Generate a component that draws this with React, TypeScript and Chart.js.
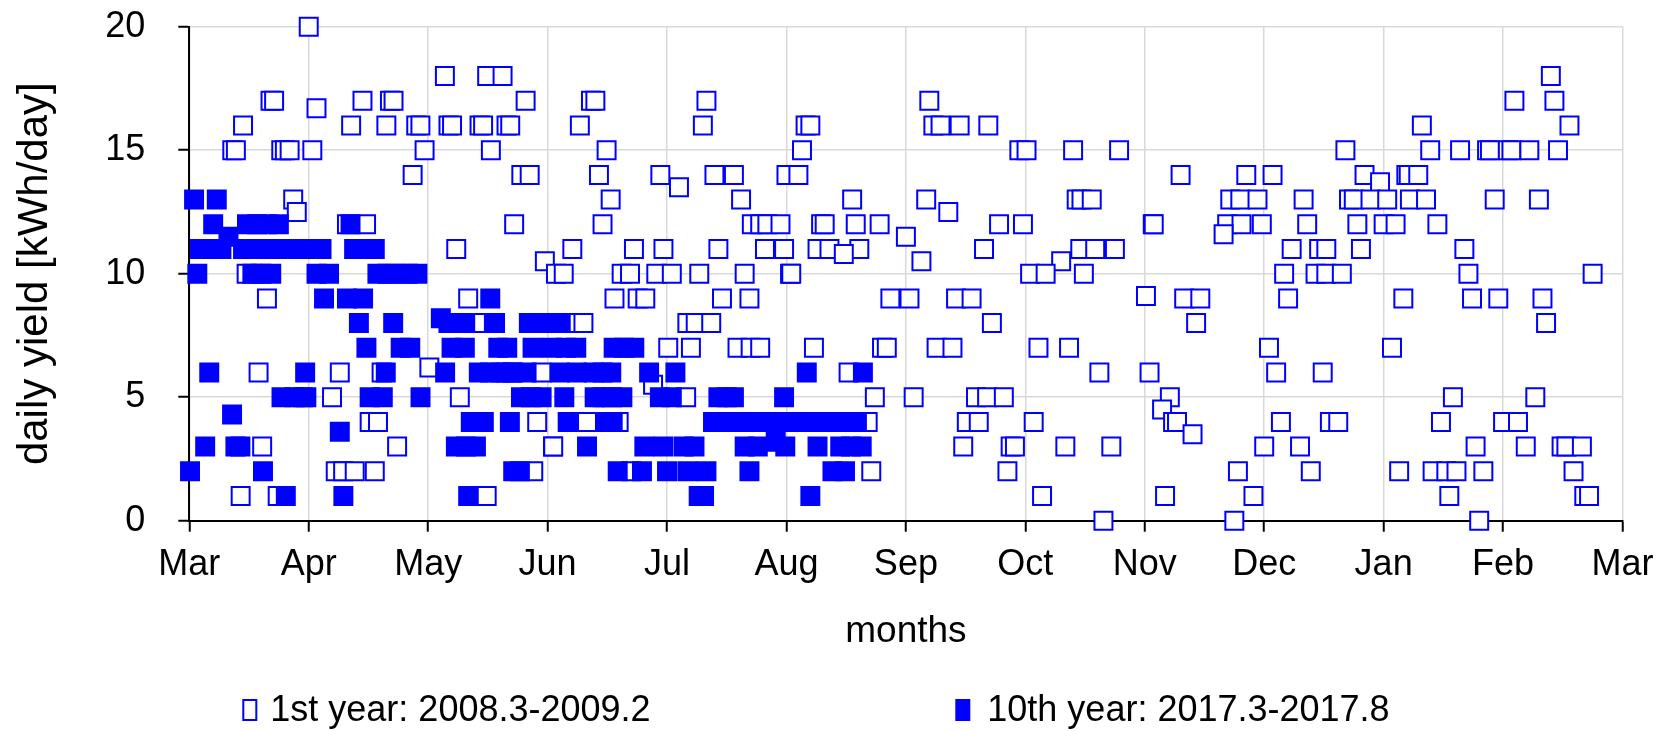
import React, { useEffect, useRef } from 'react';
import { Chart, registerables } from 'chart.js';

Chart.register(...registerables);

// Month ticks (x = months since 1 March)
const MONTH_LABELS = ['Mar', 'Apr', 'May', 'Jun', 'Jul', 'Aug', 'Sep', 'Oct', 'Nov', 'Dec', 'Jan', 'Feb', 'Mar'];
const Y_TICKS = [0, 5, 10, 15, 20];
const X_TITLE = 'months';
const Y_TITLE = 'daily yield [kWh/day]';
const SERIES_NAMES = ['1st year: 2008.3-2009.2', '10th year: 2017.3-2017.8'];

// 1st year (open squares): [month position, kWh/day]
const YEAR1_MAR_APR: [number, number][] = [
  [1.0, 20], [0.68, 17], [0.71, 17], [1.065, 16.7], [0.45, 16], [0.36, 15], [0.39, 15], [0.77, 15], [0.8, 15], [0.84, 15],
  [1.03, 15], [0.87, 13], [0.9, 12.5], [0.48, 10], [0.65, 9], [0.58, 6], [0.61, 3], [0.43, 1], [0.74, 1], [0.95, 5],
  [1.45, 17], [1.68, 17], [1.71, 17], [1.355, 16], [1.65, 16], [1.9, 16], [1.935, 16], [1.97, 15], [1.87, 14], [1.32, 12],
  [1.48, 12], [1.26, 6], [1.61, 6], [2.01, 6.2], [1.195, 5], [1.51, 4], [1.58, 4], [1.74, 3], [1.226, 2], [1.288, 2],
  [1.385, 2], [1.553, 2],
];
const YEAR1_MAY_JUN: [number, number][] = [
  [2.14, 18], [2.494, 18], [2.623, 18], [2.816, 17], [2.17, 16], [2.2, 16], [2.43, 16], [2.46, 16], [2.656, 16], [2.687, 16],
  [2.525, 15], [2.78, 14], [2.85, 14], [2.72, 12], [2.235, 11], [2.977, 10.5], [2.335, 9], [2.4, 8], [2.65, 6], [2.7, 6],
  [2.95, 6], [2.265, 5], [2.913, 4], [3.045, 3], [2.88, 2], [2.49, 1],
  [3.363, 17], [3.4, 17], [3.27, 16], [3.494, 15], [3.43, 14], [3.944, 14], [4.1, 13.5], [3.528, 13], [3.46, 12], [3.207, 11],
  [3.723, 11], [3.97, 11], [3.07, 10], [3.135, 10], [3.62, 10], [3.69, 10], [3.91, 10], [4.04, 10], [3.56, 9], [3.754, 9],
  [3.818, 9], [3.218, 8], [3.3, 8], [4.01, 7], [3.883, 5.5], [3.33, 4], [3.595, 4], [3.047, 3], [3.7, 2],
];
const YEAR1_JUL_AUG: [number, number][] = [
  [4.33, 17], [4.3, 16], [4.397, 14], [4.56, 14], [5.0, 14], [5.1, 14], [4.62, 13], [4.71, 12], [4.78, 12], [4.84, 12],
  [4.95, 12], [4.43, 11], [4.82, 11], [4.98, 11], [4.27, 10], [4.65, 10], [5.03, 10], [4.46, 9], [4.69, 9], [4.17, 8],
  [4.24, 8], [4.37, 8], [4.2, 7], [4.59, 7], [4.7, 7], [4.78, 7], [4.16, 5],
  [5.16, 16], [5.2, 16], [5.13, 15], [5.55, 13], [5.29, 12], [5.32, 12], [5.58, 12], [5.78, 12], [6.0, 11.5], [5.26, 11],
  [5.36, 11], [5.61, 11], [5.48, 10.8], [6.13, 10.5], [5.04, 10], [5.87, 9], [6.03, 9], [5.23, 7], [5.8, 7], [5.84, 7],
  [5.52, 6], [5.74, 5], [6.065, 5], [5.68, 4], [5.71, 2],
];
const YEAR1_SEP_OCT: [number, number][] = [
  [6.196, 17], [6.23, 16], [6.29, 16], [6.45, 16], [6.69, 16], [6.95, 15], [7.01, 15], [7.4, 15], [7.785, 15], [6.17, 13],
  [7.43, 13], [7.47, 13], [7.556, 13], [6.355, 12.5], [6.78, 12], [6.98, 12], [6.654, 11], [7.46, 11], [7.585, 11], [7.75, 11],
  [7.3, 10.5], [7.04, 10], [7.17, 10], [7.49, 10], [6.42, 9], [6.55, 9], [6.72, 8], [6.257, 7], [6.39, 7], [7.11, 7],
  [7.366, 7], [7.62, 6], [6.587, 5], [6.68, 5], [6.82, 5], [6.51, 4], [6.61, 4], [7.07, 4], [6.48, 3], [6.877, 3],
  [6.913, 3], [7.335, 3], [7.72, 3], [6.85, 2], [7.14, 1], [7.654, 0],
];
const YEAR1_NOV_DEC: [number, number][] = [
  [8.067, 12], [8.01, 9.1], [8.04, 6],
  [9.68, 15], [8.3, 14], [8.85, 14], [9.07, 14], [9.84, 14], [9.97, 13.7], [8.716, 13], [8.8, 13], [8.944, 13], [9.33, 13],
  [9.71, 13], [9.75, 13], [9.89, 13], [10.03, 13], [8.075, 12], [8.69, 12], [8.81, 12], [8.98, 12], [9.36, 12], [9.78, 12],
  [10.0, 12], [10.1, 12], [8.66, 11.6], [9.23, 11], [9.46, 11], [9.52, 11], [9.81, 11], [9.167, 10], [9.43, 10], [9.52, 10],
  [9.65, 10], [8.33, 9], [8.465, 9], [9.2, 9], [8.43, 8], [9.04, 7], [10.07, 7], [9.1, 6], [9.49, 6], [8.21, 5],
  [8.145, 4.5], [8.237, 4], [8.27, 4], [9.14, 4], [9.55, 4], [9.62, 4], [8.4, 3.5], [9.0, 3], [9.3, 3], [8.78, 2],
  [9.39, 2], [10.13, 2], [8.17, 1], [8.91, 1], [8.75, 0],
];
const YEAR1_JAN_FEB: [number, number][] = [
  [11.4, 18], [11.095, 17], [11.43, 17], [10.32, 16], [11.556, 16], [10.39, 15], [10.64, 15], [10.866, 15], [10.89, 15],
  [11.04, 15], [11.07, 15], [11.22, 15], [11.46, 15], [10.19, 14], [10.21, 14], [10.29, 14], [10.22, 13], [10.355, 13],
  [10.93, 13], [11.3, 13], [10.45, 12], [10.676, 11], [10.71, 10], [11.75, 10], [10.165, 9], [10.74, 9], [10.96, 9],
  [11.33, 9], [11.36, 8], [10.58, 5], [11.27, 5], [10.48, 4], [11.0, 4], [11.125, 4], [10.77, 3], [11.19, 3], [11.49, 3],
  [11.53, 3], [11.66, 3], [10.41, 2], [10.525, 2], [10.61, 2], [10.835, 2], [11.59, 2], [10.55, 1], [11.68, 1], [11.72, 1],
  [10.8, 0],
];

// 10th year (filled squares): [month position, kWh/day]
const YEAR10_MAR: [number, number][] = [
  [0.04, 13], [0.23, 13], [0.2, 12], [0.483, 12], [0.567, 12], [0.65, 12], [0.75, 12], [0.328, 11.5], [0.089, 11],
  [0.178, 11], [0.269, 11], [0.45, 11], [0.575, 11], [0.7, 11], [0.825, 11], [0.95, 11], [0.067, 10], [0.528, 10],
  [0.603, 10], [0.686, 10], [0.167, 6], [0.97, 6], [0.772, 5], [0.88, 5], [0.98, 5], [0.358, 4.3], [0.133, 3],
  [0.386, 3], [0.428, 3], [0.006, 2], [0.617, 2], [0.808, 1],
];
const YEAR10_APR: [number, number][] = [
  [1.35, 12], [1.107, 11], [1.38, 11], [1.47, 11], [1.553, 11], [1.065, 10], [1.17, 10], [1.575, 10], [1.66, 10],
  [1.74, 10], [1.83, 10], [1.91, 10], [1.128, 9], [1.32, 9], [1.455, 9], [1.42, 8], [1.707, 8], [1.483, 7], [1.77, 7],
  [1.85, 7], [1.645, 6], [1.51, 5], [1.62, 5], [1.936, 5], [1.26, 3.6], [1.29, 1],
];
const YEAR10_MAY: [number, number][] = [
  [2.52, 9], [2.106, 8.2], [2.17, 8], [2.24, 8], [2.31, 8], [2.56, 8], [2.843, 8], [2.977, 8], [2.196, 7], [2.307, 7],
  [2.587, 7], [2.662, 7], [2.874, 7], [2.142, 6], [2.424, 6], [2.517, 6], [2.6, 6], [2.712, 6], [2.824, 6], [2.777, 5],
  [2.86, 5], [2.95, 5], [2.357, 4], [2.466, 4], [2.684, 4], [2.232, 3], [2.316, 3], [2.4, 3], [2.712, 2], [2.768, 2],
  [2.335, 1],
];
const YEAR10_JUN: [number, number][] = [
  [3.11, 8], [3.036, 7], [3.153, 7], [3.24, 7], [3.553, 7], [3.64, 7], [3.726, 7], [3.1, 6], [3.246, 6], [3.385, 6],
  [3.46, 6], [3.533, 6], [3.85, 6], [3.14, 5], [3.394, 5], [3.46, 5], [3.539, 5], [3.626, 5], [3.94, 5], [3.168, 4],
  [3.49, 4], [3.545, 4], [3.33, 3], [3.81, 3], [3.97, 3], [3.587, 2], [3.79, 2],
];
const YEAR10_JUL_AUG: [number, number][] = [
  [4.07, 6], [5.17, 6], [5.64, 6], [4.04, 5], [4.43, 5], [4.5, 5], [4.56, 5], [4.98, 5], [4.385, 4], [4.48, 4],
  [4.58, 4], [4.68, 4], [4.78, 4], [4.88, 4], [4.98, 4], [5.08, 4], [5.18, 4], [5.28, 4], [5.38, 4], [5.48, 4],
  [5.59, 4], [4.91, 3.2], [4.14, 3], [4.23, 3], [4.65, 3], [4.76, 3], [4.99, 3], [5.26, 3], [5.45, 3], [5.54, 3],
  [5.63, 3], [4.0, 2], [4.17, 2], [4.33, 2], [4.69, 2], [5.385, 2], [5.49, 2], [4.265, 1], [4.31, 1], [5.2, 1],
];

const YEAR1 = [...YEAR1_MAR_APR, ...YEAR1_MAY_JUN, ...YEAR1_JUL_AUG, ...YEAR1_SEP_OCT, ...YEAR1_NOV_DEC, ...YEAR1_JAN_FEB];
const YEAR10 = [...YEAR10_MAR, ...YEAR10_APR, ...YEAR10_MAY, ...YEAR10_JUN, ...YEAR10_JUL_AUG];

const FONT = "'Liberation Sans', Arial, Helvetica, sans-serif";
const BLUE = '#0000ff';
const GRID = '#d9d9d9';
const TICK_SIZE = 36;
const XTITLE_SIZE = 37;
const YTITLE_SIZE = 42;
const LEGEND_SIZE = 36;

export default function App() {
  const canvasRef = useRef<HTMLCanvasElement | null>(null);

  useEffect(() => {
    const canvas = canvasRef.current;
    if (!canvas) return;
    const toPts = (arr: [number, number][]) => arr.map(([x, y]) => ({ x, y }));

    const legendPlugin = {
      id: 'bottomLegend',
      afterDraw(chart: any) {
        const ctx = chart.ctx as CanvasRenderingContext2D;
        const left = chart.chartArea.left;
        ctx.save();
        ctx.font = `${LEGEND_SIZE}px ${FONT}`;
        ctx.textBaseline = 'middle';
        ctx.textAlign = 'left';
        const yMid = 711;
        const items = [
          { name: SERIES_NAMES[0], fill: '#ffffff', boxX: left + 54, textX: left + 81 },
          { name: SERIES_NAMES[1], fill: BLUE, boxX: left + 767, textX: left + 798 },
        ];
        items.forEach((it) => {
          ctx.lineWidth = 2;
          ctx.strokeStyle = BLUE;
          ctx.fillStyle = it.fill;
          ctx.fillRect(it.boxX, yMid - 11, 13, 20);
          ctx.strokeRect(it.boxX, yMid - 11, 13, 20);
          ctx.fillStyle = '#000000';
          ctx.fillText(it.name, it.textX, yMid);
        });
        ctx.restore();
      },
    };

    const tickFont = { family: FONT, size: TICK_SIZE, lineHeight: 1.1 };

    const chart = new Chart(canvas, {
      type: 'scatter',
      data: {
        datasets: [
          {
            label: SERIES_NAMES[1],
            data: toPts(YEAR10),
            pointStyle: 'rect',
            pointRadius: 12.7,
            pointHoverRadius: 12.7,
            pointBackgroundColor: BLUE,
            pointBorderColor: BLUE,
            pointBorderWidth: 2,
            backgroundColor: BLUE,
            borderColor: BLUE,
            showLine: false,
            order: 0,
            clip: false,
          } as any,
          {
            label: SERIES_NAMES[0],
            data: toPts(YEAR1),
            pointStyle: 'rect',
            pointRadius: 12.7,
            pointHoverRadius: 12.7,
            pointBackgroundColor: '#ffffff',
            pointBorderColor: BLUE,
            pointBorderWidth: 2,
            backgroundColor: '#ffffff',
            borderColor: BLUE,
            showLine: false,
            order: 1,
            clip: false,
          } as any,
        ],
      },
      options: {
        responsive: false,
        animation: false,
        events: [],
        layout: { padding: { left: 0, top: 26.7, right: 50.5, bottom: 76.8 } },
        plugins: { legend: { display: false }, tooltip: { enabled: false } },
        scales: {
          x: {
            type: 'linear',
            min: 0,
            max: MONTH_LABELS.length - 1,
            afterBuildTicks: (scale: any) => {
              scale.ticks = MONTH_LABELS.map((_, i) => ({ value: i }));
            },
            afterFit: (scale: any) => {
              scale.height = 133.5;
              scale.paddingLeft = 0;
              scale.paddingRight = 0;
            },
            ticks: {
              autoSkip: false,
              maxRotation: 0,
              minRotation: 0,
              padding: 13.5,
              color: '#000000',
              font: tickFont,
              callback: (v: any) => MONTH_LABELS[Math.round(Number(v))],
            },
            grid: { color: GRID, lineWidth: 1.5, tickColor: '#000000', tickLength: 11, tickWidth: 2 },
            border: { color: '#000000', width: 2 },
            title: {
              display: true,
              text: X_TITLE,
              color: '#000000',
              font: { family: FONT, size: XTITLE_SIZE, lineHeight: 1.2 },
              padding: { top: 0, bottom: 0 },
            },
          },
          y: {
            type: 'linear',
            min: Y_TICKS[0],
            max: Y_TICKS[Y_TICKS.length - 1],
            afterBuildTicks: (scale: any) => {
              scale.ticks = Y_TICKS.map((v) => ({ value: v }));
            },
            afterFit: (scale: any) => {
              scale.width = 189.3;
              scale.paddingTop = 0;
              scale.paddingBottom = 0;
            },
            ticks: { padding: 33, color: '#000000', font: tickFont },
            grid: { color: GRID, lineWidth: 1.5, tickColor: '#000000', tickLength: 11, tickWidth: 2 },
            border: { color: '#000000', width: 2 },
            title: {
              display: true,
              text: Y_TITLE,
              color: '#000000',
              font: { family: FONT, size: YTITLE_SIZE, lineHeight: 1.2 },
              padding: { top: 10, bottom: 0 },
            },
          },
        },
      } as any,
      plugins: [legendPlugin],
    });

    return () => chart.destroy();
  }, []);

  return (
    <div style={{ position: 'fixed', left: 0, top: 0, width: 1673, height: 731, background: '#ffffff' }}>
      <canvas ref={canvasRef} width={1673} height={731} style={{ display: 'block', width: 1673, height: 731 }} />
    </div>
  );
}
